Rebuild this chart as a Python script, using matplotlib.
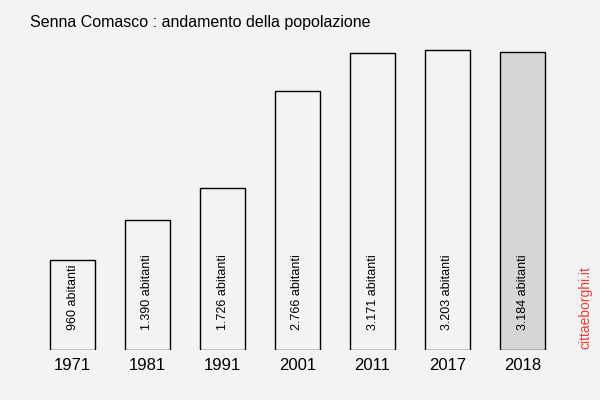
import matplotlib.pyplot as plt

plt.rcParams['font.family'] = ['Liberation Sans', 'DejaVu Sans']

anni = ["1971", "1981", "1991", "2001", "2011", "2017", "2018"]
abitanti = [960, 1390, 1726, 2766, 3171, 3203, 3184]
etichette = ["960 abitanti", "1.390 abitanti", "1.726 abitanti", "2.766 abitanti",
             "3.171 abitanti", "3.203 abitanti", "3.184 abitanti"]

sfondo = "#f3f3f3"
colori = [sfondo] * 6 + ["#d6d6d6"]

fig = plt.figure(figsize=(6, 4), dpi=100, facecolor=sfondo)
ax = fig.add_axes([35 / 600, 50 / 400, 525 / 600, 330 / 400])
ax.set_facecolor(sfondo)

x = range(len(anni))
ax.bar(x, abitanti, width=0.6, color=colori, edgecolor="black", linewidth=1)
for i, testo in enumerate(etichette):
    ax.text(i, 215, testo, rotation=90, ha="center", va="bottom", fontsize=9)

ax.set_xlim(-0.5, 6.5)
ax.set_ylim(0, 3526)
ax.set_xticks(list(x))
ax.set_xticklabels(anni, fontsize=12)
ax.tick_params(axis="x", length=0, pad=6)
ax.set_yticks([])
for s in ax.spines.values():
    s.set_visible(False)

fig.text(30 / 600, 1 - 22 / 400, "Senna Comasco : andamento della popolazione",
         fontsize=11.5, ha="left", va="center")
fig.text(585 / 600, 1 - 308 / 400, "cittaeborghi.it", color="#e8413f",
         fontsize=10, rotation=90, ha="center", va="center")

fig.savefig("out.png", dpi=100, facecolor=sfondo)
